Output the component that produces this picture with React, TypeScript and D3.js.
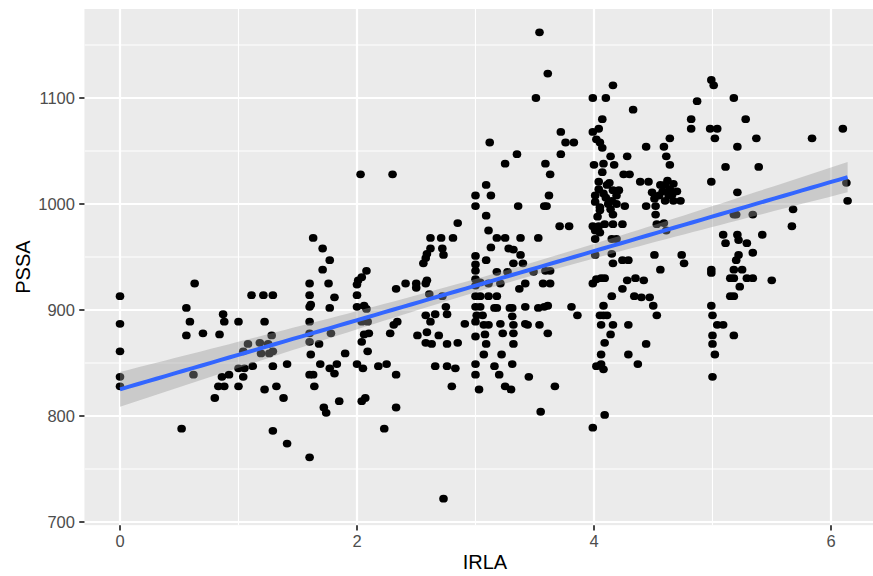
import React from "react";
import * as d3 from "d3";

// ---- Data (IRLA vs PSSA) ----
const irlaA = [0, 0, 0, 0, 0, 0.63, 0.56, 0.59, 0.56, 0.70, 0.84, 0.87, 0.88, 1.0, 1.11, 1.21, 1.29, 1.22, 1.28,
  0.62, 0.80, 0.83, 0.88, 0.86, 0.92, 1.0, 1.0, 1.05, 1.04, 1.12, 1.08, 1.04, 1.18, 1.25, 1.19, 1.26, 1.29, 1.22, 1.32, 1.38, 1.29, 1.41, 0.52, 1.29, 1.41];
const pssaA = [913, 887, 861, 837, 828, 925, 902, 889, 876, 878, 877, 896, 889, 889, 914, 914, 914, 889, 876,
  839, 817, 828, 828, 837, 839, 828, 845, 845, 837, 847, 868, 861, 869, 868, 859, 859, 861, 825, 828, 817, 847, 849, 788, 786, 774];

const irlaB = [2.03, 2.30, 2.85, 1.63, 1.71, 1.77, 1.71, 1.60, 1.60, 1.61, 1.60, 1.60, 1.76, 1.81, 1.77, 1.78, 2.08, 2.04, 2.01, 2.0,
  2.0, 2.0, 2.06, 2.08, 2.04, 2.09, 2.10, 2.33, 2.41, 2.50, 2.50, 2.58, 2.59, 2.56, 2.58, 2.59, 2.62, 2.62, 2.71, 2.81,
  2.72, 2.73, 2.61, 2.72, 2.75, 2.76, 2.58, 2.66, 2.62, 2.34, 2.31, 2.28, 2.51, 2.59, 2.69, 2.91, 1.60];
const pssaB = [1028, 1028, 982, 968, 958, 947, 938, 925, 914, 905, 889, 878, 925, 912, 902, 878, 937, 931, 928, 924,
  914, 903, 904, 901, 889, 889, 878, 920, 925, 925, 921, 925, 928, 944, 949, 953, 958, 968, 968, 968,
  958, 952, 915, 913, 903, 896, 895, 896, 889, 889, 886, 878, 876, 879, 876, 887, 903];

const irlaC = [1.60, 1.68, 1.61, 1.60, 1.63, 1.64, 1.69, 1.77, 1.83, 1.81, 1.90, 1.72, 1.74, 1.85, 1.60, 2.04, 2.06, 2.09, 2.0, 2.05,
  2.04, 2.07, 2.18, 2.25, 2.33, 2.33, 2.23, 2.58, 2.63, 2.76, 2.85, 2.66, 2.76, 2.83, 2.80, 2.73];
const pssaC = [870, 868, 858, 839, 839, 828, 849, 845, 849, 840, 859, 808, 803, 814, 761, 870, 877, 861, 849, 845,
  814, 817, 847, 849, 839, 808, 788, 869, 868, 868, 869, 847, 847, 845, 828, 722];

const irlaD = [3.0, 3.0, 3.0, 3.0, 3.0, 3.0, 3.0, 3.0, 3.0, 3.01, 3.0, 3.0, 3.0, 3.0, 3.03];
const pssaD = [1008, 998, 951, 943, 937, 929, 923, 913, 903, 895, 889, 875, 849, 839, 825];

const irlaE = [3.54, 3.61, 3.51, 3.72, 3.76, 3.83, 3.72, 3.12, 3.35, 3.25, 3.59, 3.63, 3.09, 3.13, 3.36, 3.58, 3.60, 3.62, 3.09,
  3.11, 3.18, 3.25, 3.38, 3.53, 3.71, 3.79, 3.13, 3.28, 3.32, 3.38, 3.09, 3.32, 3.40, 3.18, 3.27, 3.49, 3.59, 3.63, 3.04,
  3.11, 3.21, 3.37, 3.42, 3.57, 3.63, 3.04, 3.11, 3.18, 3.04, 3.16, 3.18, 3.29, 3.31, 3.42, 3.53, 3.58, 3.61, 3.81, 3.86,
  3.06, 3.31, 3.07, 3.11, 3.21, 3.32, 3.42, 3.44, 3.54, 3.08, 3.23, 3.32, 3.61, 3.09, 3.32, 3.07, 3.22, 3.16, 3.31, 3.2,
  3.45, 3.25, 3.30, 3.67, 3.55];
const pssaE = [1162, 1123, 1100, 1068, 1058, 1058, 1047, 1058, 1047, 1038, 1038, 1028, 1018, 1008, 998, 998, 998, 1008, 989,
  975, 968, 968, 968, 968, 979, 979, 959, 958, 957, 952, 947, 944, 944, 936, 936, 936, 937, 937, 926,
  925, 925, 920, 925, 925, 925, 913, 913, 913, 903, 902, 902, 902, 902, 903, 902, 903, 904, 903, 895,
  895, 894, 886, 886, 887, 886, 887, 886, 886, 877, 878, 878, 878, 868, 868, 858, 858, 847, 849, 839,
  837, 828, 825, 828, 804];

const irlaF = [3.99, 4.10, 4.16, 4.33, 4.07, 4.04, 3.99, 4.02, 4.05, 4.07, 4.0, 4.08, 4.17, 4.14, 4.28, 4.25, 4.30, 4.44, 4.59, 4.61,
  4.64, 4.64, 4.04, 4.04, 4.11, 4.39, 4.46, 4.16, 4.19, 4.15, 4.12, 4.14, 4.01, 4.01, 4.05, 4.05, 4.16, 4.26, 4.44, 4.49,
  4.51, 4.52, 4.52, 4.56, 4.60, 4.64, 4.60,
  4.08, 4.13, 4.19, 4.21, 4.07, 4.10, 4.55, 4.63, 4.58];
const pssaF = [1100, 1100, 1112, 1089, 1080, 1071, 1068, 1061, 1058, 1053, 1037, 1038, 1037, 1045, 1045, 1028, 1028, 1054, 1054, 1045,
  1037, 1062, 1021, 1014, 1018, 1021, 1021, 1013, 1008, 1003, 1000, 995, 1008, 1002, 997, 994, 990, 998, 998, 1011,
  1005, 998, 990, 1018, 1018, 1014, 1003,
  1010, 1020, 1000, 1013, 1030, 1006, 1008, 1008, 1012];

const irlaG = [3.99, 4.04, 4.09, 4.16, 4.24, 4.01, 4.05, 4.01, 4.15, 4.19, 4.03, 4.53, 4.59, 4.61, 4.01, 4.15, 4.16, 4.24, 4.29, 4.51,
  4.56, 3.99, 4.02, 4.06, 4.09, 4.28, 4.35, 4.42, 4.24, 4.15, 4.34, 4.40, 4.47, 4.50, 4.53, 4.08, 4.05, 4.08, 4.11, 4.06,
  4.16, 4.29, 4.14, 4.09, 4.44, 4.06, 4.29, 4.37, 4.02, 4.06, 4.08, 4.09, 3.99];
const pssaG = [979, 979, 981, 981, 981, 975, 973, 967, 967, 967, 988, 981, 982, 975, 952, 953, 944, 947, 947, 952,
  938, 925, 929, 930, 930, 928, 930, 928, 920, 913, 913, 912, 912, 904, 895, 904, 895, 895, 895, 886,
  886, 886, 877, 869, 868, 858, 858, 849, 847, 849, 844, 801, 789];

const irlaH = [4.99, 5.01, 4.87, 5.18, 5.28, 4.82, 4.82, 4.98, 5.04, 5.02, 5.37, 5.21, 5.84, 6.10, 5.11, 5.39, 4.99, 5.21, 6.13, 6.14,
  5.68, 5.67, 5.18, 5.20, 5.34, 5.09, 5.11, 5.21, 5.22, 5.29, 5.42, 4.67, 4.66, 4.67, 4.73, 5.34, 5.22, 5.20, 4.74, 4.76,
  4.99, 4.99, 5.18, 5.25, 5.15, 5.18, 5.29, 5.34, 5.23, 5.50, 5.15, 5.18, 4.99, 5.0, 5.04, 5.09, 5.18, 5.0, 5.0, 5.02,
  5.0, 4.70, 4.62];
const pssaH = [1117, 1112, 1097, 1100, 1080, 1080, 1071, 1071, 1071, 1062, 1062, 1054, 1062, 1071, 1035, 1035, 1021, 1011, 1020, 1003,
  995, 979, 990, 990, 990, 971, 963, 971, 966, 963, 971, 1019, 1009, 1003, 1003, 954, 952, 947, 952, 944,
  938, 935, 938, 938, 930, 930, 930, 930, 922, 928, 913, 913, 904, 895, 886, 886, 876, 876, 868, 858,
  837, 1012, 1022];

const irla = [...irlaA, ...irlaB, ...irlaC, ...irlaD, ...irlaE, ...irlaF, ...irlaG, ...irlaH];
const pssa = [...pssaA, ...pssaB, ...pssaC, ...pssaD, ...pssaE, ...pssaF, ...pssaG, ...pssaH];

const xTicks = [0, 2, 4, 6];
const xMinor = [1, 3, 5];
const yTicks = [700, 800, 900, 1000, 1100];
const yMinor = [750, 850, 950, 1050, 1150];

const W = 873;
const H = 576;

export default function App() {
  const x = d3.scaleLinear().domain([0, 6]).range([120, 831]);
  const y = d3.scaleLinear().domain([700, 1100]).range([522, 98]);
  const pl = x(-0.3);
  const pr = x(6.46);
  const pt = y(1184);
  const pb = y(697);

  const n = Math.min(irla.length, pssa.length);
  const pts = d3.range(n).map((i) => [irla[i], pssa[i]] as [number, number]);
  const mx = d3.mean(pts, (d) => d[0]) as number;
  const my = d3.mean(pts, (d) => d[1]) as number;
  let sxx = 0, sxy = 0;
  pts.forEach(([a, b]) => { sxx += (a - mx) ** 2; sxy += (a - mx) * (b - my); });
  const slope = sxy / sxx;
  const icpt = my - slope * mx;
  let sse = 0;
  pts.forEach(([a, b]) => { sse += (b - (icpt + slope * a)) ** 2; });
  const s = Math.sqrt(sse / (n - 2));
  const tcrit = 1.966;
  const [x0, x1] = d3.extent(pts, (d) => d[0]) as [number, number];
  const grid = d3.range(81).map((i) => x0 + ((x1 - x0) * i) / 80);
  const band = grid.map((gx) => {
    const fit = icpt + slope * gx;
    const se = s * Math.sqrt(1 / n + (gx - mx) ** 2 / sxx);
    return { gx, fit, lo: fit - tcrit * se, hi: fit + tcrit * se };
  });
  const area = d3.area<any>().x((d) => x(d.gx)).y0((d) => y(d.lo)).y1((d) => y(d.hi));
  const line = d3.line<any>().x((d) => x(d.gx)).y((d) => y(d.fit));

  const font = "'Liberation Sans', Arial, Helvetica, sans-serif";

  return (
    <svg width={W} height={H} style={{ position: "absolute", left: 0, top: 0, background: "#fff" }} fontFamily={font}>
      <defs>
        <clipPath id="panel">
          <rect x={pl} y={pt} width={pr - pl} height={pb - pt} />
        </clipPath>
      </defs>
      <rect x={pl} y={pt} width={pr - pl} height={pb - pt} fill="#EBEBEB" />
      <g clipPath="url(#panel)">
        {yMinor.map((v) => (
          <line key={"ym" + v} x1={pl} x2={pr} y1={y(v)} y2={y(v)} stroke="#fff" strokeWidth={1.1} />
        ))}
        {xMinor.map((v) => (
          <line key={"xm" + v} y1={pt} y2={pb} x1={x(v)} x2={x(v)} stroke="#fff" strokeWidth={1.1} />
        ))}
        {yTicks.map((v) => (
          <line key={"yM" + v} x1={pl} x2={pr} y1={y(v)} y2={y(v)} stroke="#fff" strokeWidth={2.2} />
        ))}
        {xTicks.map((v) => (
          <line key={"xM" + v} y1={pt} y2={pb} x1={x(v)} x2={x(v)} stroke="#fff" strokeWidth={2.2} />
        ))}
        {pts.map((d, i) => (
          <ellipse key={i} cx={x(d[0])} cy={y(d[1])} rx={4.3} ry={3.9} fill="#000" />
        ))}
        <path d={area(band) as string} fill="#999999" fillOpacity={0.4} />
        <path d={line(band) as string} fill="none" stroke="#3366FF" strokeWidth={4} />
      </g>
      {yTicks.map((v) => (
        <g key={"yt" + v}>
          <line x1={pl - 5.2} x2={pl} y1={y(v)} y2={y(v)} stroke="#333" strokeWidth={1.8} />
          <text x={pl - 9.5} y={y(v)} dy="0.36em" textAnchor="end" fontSize={16.5} fill="#4D4D4D">{v}</text>
        </g>
      ))}
      {xTicks.map((v) => (
        <g key={"xt" + v}>
          <line x1={x(v)} x2={x(v)} y1={pb} y2={pb + 5.2} stroke="#333" strokeWidth={1.8} />
          <text x={x(v)} y={547} textAnchor="middle" fontSize={16.5} fill="#4D4D4D">{v}</text>
        </g>
      ))}
      <text x={(pl + pr) / 2} y={569} textAnchor="middle" fontSize={20} fill="#000">IRLA</text>
      <text transform={`translate(30,${(pt + pb) / 2}) rotate(-90)`} textAnchor="middle" fontSize={20} fill="#000">PSSA</text>
    </svg>
  );
}
